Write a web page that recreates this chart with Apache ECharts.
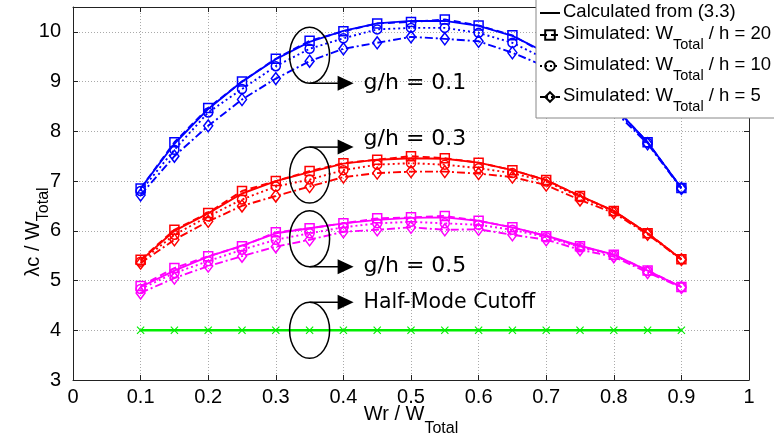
<!DOCTYPE html>
<html><head><meta charset="utf-8">
<script src="https://cdn.jsdelivr.net/npm/echarts@6/dist/echarts.min.js"></script>
<style>html,body{margin:0;padding:0;background:#fff}#c{width:774px;height:442px}</style>
</head><body><div id="c"></div>
<script>
// x positions (Wr / W_Total)
const xs = [0.1,0.15,0.2,0.25,0.3,0.35,0.4,0.45,0.5,0.55,0.6,0.65,0.7,0.75,0.8,0.85,0.9];

// g/h = 0.1 (blue)
const calc01 = [6.85,7.75,8.45,9.00,9.45,9.80,10.02,10.17,10.22,10.22,10.12,9.92,9.58,9.10,8.50,7.78,6.86];
const sim20_01 = [6.85,7.78,8.47,9.00,9.46,9.82,10.01,10.17,10.20,10.25,10.13,9.93,9.55,9.08,8.50,7.78,6.86];
const sim10_01 = [6.80,7.63,8.38,8.85,9.31,9.66,9.87,10.05,10.08,10.08,9.98,9.78,9.45,9.02,8.47,7.77,6.86];
const sim5_01  = [6.72,7.50,8.11,8.64,9.06,9.41,9.66,9.78,9.90,9.86,9.81,9.58,9.30,8.92,8.42,7.75,6.85];

// g/h = 0.3 (red)
const calc03 = [5.40,6.00,6.35,6.75,7.00,7.18,7.35,7.43,7.46,7.45,7.37,7.22,7.02,6.70,6.40,5.95,5.43];
const sim20_03 = [5.42,6.02,6.36,6.80,7.00,7.20,7.36,7.43,7.50,7.46,7.37,7.22,7.02,6.70,6.40,5.95,5.43];
const sim10_03 = [5.38,5.92,6.29,6.63,6.89,7.03,7.22,7.33,7.36,7.33,7.26,7.16,6.99,6.68,6.39,5.95,5.43];
const sim5_03  = [5.35,5.82,6.19,6.50,6.70,6.89,7.08,7.16,7.19,7.19,7.15,7.08,6.92,6.62,6.36,5.93,5.42];

// g/h = 0.5 (magenta)
const calc05 = [4.87,5.20,5.48,5.70,5.95,6.05,6.15,6.22,6.26,6.27,6.20,6.07,5.90,5.70,5.52,5.20,4.87];
const sim20_05 = [4.89,5.25,5.49,5.69,5.97,6.05,6.15,6.25,6.27,6.30,6.20,6.07,5.89,5.69,5.52,5.20,4.87];
const sim10_05 = [4.83,5.15,5.39,5.62,5.82,5.95,6.07,6.15,6.18,6.15,6.12,6.02,5.87,5.67,5.51,5.19,4.87];
const sim5_05  = [4.75,5.05,5.29,5.49,5.68,5.82,5.98,6.02,6.07,6.02,6.03,5.92,5.82,5.62,5.48,5.16,4.86];

// Half-mode cutoff (green)
const halfMode = [4,4,4,4,4,4,4,4,4,4,4,4,4,4,4,4,4];

// axis ticks
const xMin = 0, xMax = 1, xStep = 0.1;
const yMin = 3, yMax = 10.5, yStep = 1;

// legend names
const legendNames = ['Calculated from (3.3)', 'Simulated: W_Total / h = 20', 'Simulated: W_Total / h = 10', 'Simulated: W_Total / h = 5'];

// annotation labels, ellipse centre y (data), side the arrow leaves from
const annoText = ['g/h = 0.1', 'g/h = 0.3', 'g/h = 0.5', 'Half-Mode Cutoff'];
const annoY = [9.53, 7.12, 5.84, 4.0];
const annoSide = ['bottom', 'top', 'bottom', 'top'];
const annoX = 0.35;

const DASH = { solid: 'solid', dashed: [7, 4], dotted: [2, 3], dashdot: [8, 3, 2, 3] };
const styles = [
  { dash: 'solid', symbol: 'none', size: 0 },
  { dash: 'dashed', symbol: 'rect', size: 9 },
  { dash: 'dotted', symbol: 'circle', size: 9 },
  { dash: 'dashdot', symbol: 'diamond', size: [9, 12] }
];

function pairs(ys) { return xs.map((x, i) => [x, ys[i]]); }

function mkSeries(name, ys, color, st) {
  return {
    type: 'line', name: name, data: pairs(ys), z: 2,
    symbol: st.symbol, symbolSize: st.size, showSymbol: st.symbol !== 'none',
    lineStyle: { color: color, width: 1.9, type: DASH[st.dash] },
    itemStyle: { color: 'rgba(0,0,0,0)', borderColor: color, borderWidth: st.symbol === 'none' ? 0 : 1.5 },
    emphasis: { disabled: true }, animation: false
  };
}

const groups = [
  { c: '#0000ff', d: [calc01, sim20_01, sim10_01, sim5_01], k: '0.1' },
  { c: '#ff0000', d: [calc03, sim20_03, sim10_03, sim5_03], k: '0.3' },
  { c: '#ff00ff', d: [calc05, sim20_05, sim10_05, sim5_05], k: '0.5' }
];

const series = [];
// legend proxies (black, no data)
legendNames.forEach((n, i) => {
  const s = mkSeries(n, [], '#000', styles[i]);
  s.data = [];
  series.push(s);
});
groups.forEach(g => {
  for (let i = 3; i >= 0; i--) series.push(mkSeries('g' + g.k + '-' + i, g.d[i], g.c, styles[i]));
});
series.push({
  type: 'line', name: 'halfmode', data: pairs(halfMode),
  symbol: 'path://M0,1 L1,0 L5,4 L9,0 L10,1 L6,5 L10,9 L9,10 L5,6 L1,10 L0,9 L4,5 Z',
  symbolSize: 8, lineStyle: { color: '#00ee00', width: 2.6 },
  itemStyle: { color: '#00ee00' }, emphasis: { disabled: true }, animation: false
});

const tickFont = "'Liberation Sans', Arial, sans-serif";
const nameRich = {
  n: { fontFamily: tickFont, fontSize: 20, color: '#000', verticalAlign: 'top', lineHeight: 22 },
  s: { fontFamily: tickFont, fontSize: 16, color: '#000', verticalAlign: 'top', lineHeight: 16, padding: [13, 0, 0, 0] }
};
const chart = echarts.init(document.getElementById('c'), null, { renderer: 'canvas' });

const axisCommon = {
  axisLine: { show: true, onZero: false, lineStyle: { color: '#222', width: 1 } },
  axisTick: { show: true, inside: true, length: 5, lineStyle: { color: '#222' } }
};

chart.setOption({
  animation: false,
  backgroundColor: '#fff',
  grid: { left: 73, right: 25, top: 7, bottom: 62, containLabel: false, outerBoundsMode: 'none' },
  xAxis: [
    Object.assign({
      type: 'value', min: xMin, max: xMax, interval: xStep, position: 'bottom',
      axisLabel: { color: '#000', fontFamily: tickFont, fontSize: 20, margin: 7 },
      splitLine: { show: true, lineStyle: { color: '#aaa', type: [1, 2] } },
      name: '{n|Wr / W}{s|Total}', nameLocation: 'middle', nameGap: 24, nameMoveOverlap: false,
      nameTextStyle: { rich: {
        n: { fontFamily: tickFont, fontSize: 20, color: '#000', verticalAlign: 'top', lineHeight: 22 },
        s: { fontFamily: tickFont, fontSize: 16, color: '#000', verticalAlign: 'top', lineHeight: 16, padding: [17, 0, 0, 0] }
      } }
    }, axisCommon),
    Object.assign({
      type: 'value', min: xMin, max: xMax, interval: xStep, position: 'top',
      axisLabel: { show: false }, splitLine: { show: false }
    }, axisCommon)
  ],
  yAxis: [
    Object.assign({
      type: 'value', min: yMin, max: yMax, interval: yStep, position: 'left',
      axisLabel: { color: '#000', fontFamily: tickFont, fontSize: 20, margin: 12, showMaxLabel: false },
      splitLine: { show: true, lineStyle: { color: '#aaa', type: [1, 2] } }
    }, axisCommon),
    Object.assign({
      type: 'value', min: yMin, max: yMax, interval: yStep, position: 'right',
      axisLabel: { show: false }, splitLine: { show: false }
    }, axisCommon)
  ],
  legend: {
    data: legendNames, orient: 'vertical', left: 536, top: -4,
    itemWidth: 20, itemHeight: 12, itemGap: 3,
    padding: [6, 10, 4, 3],
    backgroundColor: '#fff', borderColor: '#888', borderWidth: 1, borderRadius: 0,
    selectedMode: false,
    formatter: function (name) {
      if (name.indexOf('W_Total') < 0) return '{n|' + name + '}';
      const p = name.split('W_Total');
      return '{n|' + p[0] + 'W}{s|Total}{n|' + p[1] + '}';
    },
    textStyle: { color: '#000', fontFamily: "'Liberation Sans', Arial, sans-serif", fontSize: 18.5, padding: [0, 0, 0, -2],
      rich: {
        n: { fontFamily: "'Liberation Sans', Arial, sans-serif", fontSize: 18.5, color: '#000', verticalAlign: 'top', lineHeight: 22 },
        s: { fontFamily: "'Liberation Sans', Arial, sans-serif", fontSize: 14.5, color: '#000', verticalAlign: 'top', lineHeight: 15, padding: [13, 0, 0, 0] }
      } }
  },
  series: series
});

// annotations: ellipse + arrow + label, anchored to data coordinates
const graphics = [];
annoText.forEach((t, i) => {
  const p = chart.convertToPixel({ xAxisIndex: 0, yAxisIndex: 0 }, [annoX, annoY[i]]);
  const cx = p[0], cy = p[1], rx = 20, ry = 28;
  const ay = annoSide[i] === 'bottom' ? cy + ry : cy - ry;
  const dy = i === 1 ? -8 : 0;
  graphics.push(
    { type: 'ellipse', z: 10, shape: { cx: cx, cy: cy, rx: rx, ry: ry }, style: { fill: null, stroke: '#000', lineWidth: 1.5 } },
    { type: 'line', z: 10, shape: { x1: cx, y1: ay, x2: cx + 30, y2: ay }, style: { stroke: '#000', lineWidth: 1.5 } },
    { type: 'polygon', z: 10, shape: { points: [[cx + 28, ay - 7.5], [cx + 44, ay], [cx + 28, ay + 7.5]] }, style: { fill: '#000' } },
    { type: 'text', z: 10, x: cx + 54, y: ay + dy, style: { text: t, fill: '#000', fontFamily: "'DejaVu Sans', sans-serif", fontSize: i === 3 ? 20.5 : 22, verticalAlign: 'middle' } }
  );
});
// y-axis title (rotated), placed left of the axis
graphics.push({
  type: 'text', z: 10, x: 34, y: 232, rotation: Math.PI / 2,
  style: { text: '{n|λc / W}{s|Total}', rich: nameRich, align: 'center', verticalAlign: 'middle', fill: '#000' }
});
chart.setOption({ graphic: graphics });
</script>
</body></html>
